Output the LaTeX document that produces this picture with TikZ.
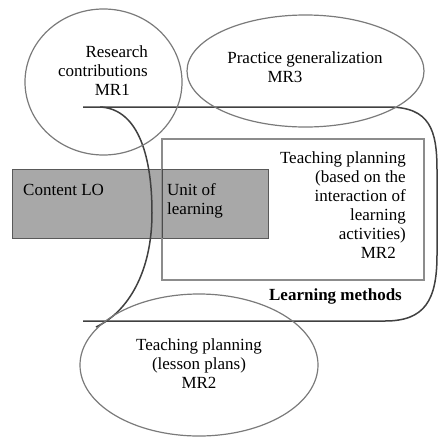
\documentclass[tikz,border=0pt]{standalone}
\usepackage{fontspec}
\setmainfont{Liberation Serif}
\begin{document}
\begin{tikzpicture}[x=1pt,y=-1pt,
  txt/.style={inner sep=0pt,font=\fontsize{17}{19}\selectfont},
  ring/.style={draw=black!52,line width=1.2pt},
  mainline/.style={draw=black!75,line width=1.5pt},
  innerbox/.style={draw=black!45,line width=2pt},
  graybox/.style={draw=black!65,fill=black!34,line width=1pt}]
\useasboundingbox (0,0) rectangle (439,437);
% gray content box
\path[graybox] (12,169) rectangle (268,238);
% inner rectangle
\path[innerbox] (162,139) rectangle (424,280);
\draw[black!70,line width=1pt] (162,169) -- (162,238);
% main learning methods shape
\path[mainline] (83,107) -- (388,107) .. controls (430,107) and (437,130) .. (437,170)
  -- (437,255) .. controls (437,300) and (425,321) .. (385,321) -- (83,321);
\path[mainline] (100,107) .. controls (140,109) and (152,160) .. (152,213)
  .. controls (152,272) and (128,312) .. (96,327);
% circles / ellipses
\path[ring] (103.5,82) ellipse [x radius=78.5, y radius=73];
\path[ring] (305.5,71) ellipse [x radius=118.5, y radius=56];
\path[ring] (199,365) ellipse [x radius=119, y radius=71];
% texts
\node[txt,align=right,anchor=east] (rc) at (148,70.3) {Research\\contributions\\MR1\hspace*{18pt}};
\node[txt,align=center] (pg) at (305,66.8) {Practice generalization\\MR3\hspace*{40pt}};
\node[txt,align=right,anchor=east] (tp) at (406,204.8) {Teaching planning\\(based on the\\interaction of\\learning\\activities)\hspace*{-4pt}\\MR2\hspace*{10pt}};
\node[txt,anchor=base,font=\fontsize{17}{19}\selectfont\bfseries] (lm) at (335.5,300) {Learning methods};
\node[txt,anchor=base west] (clo) at (23,195) {Content LO};
\node[txt,align=left,anchor=north west] (ul) at (167,183.5) {Unit of\\learning};
\node[txt,align=center] (lp) at (199,363.8) {Teaching planning\\(lesson plans)\\MR2};
\end{tikzpicture}
\end{document}
